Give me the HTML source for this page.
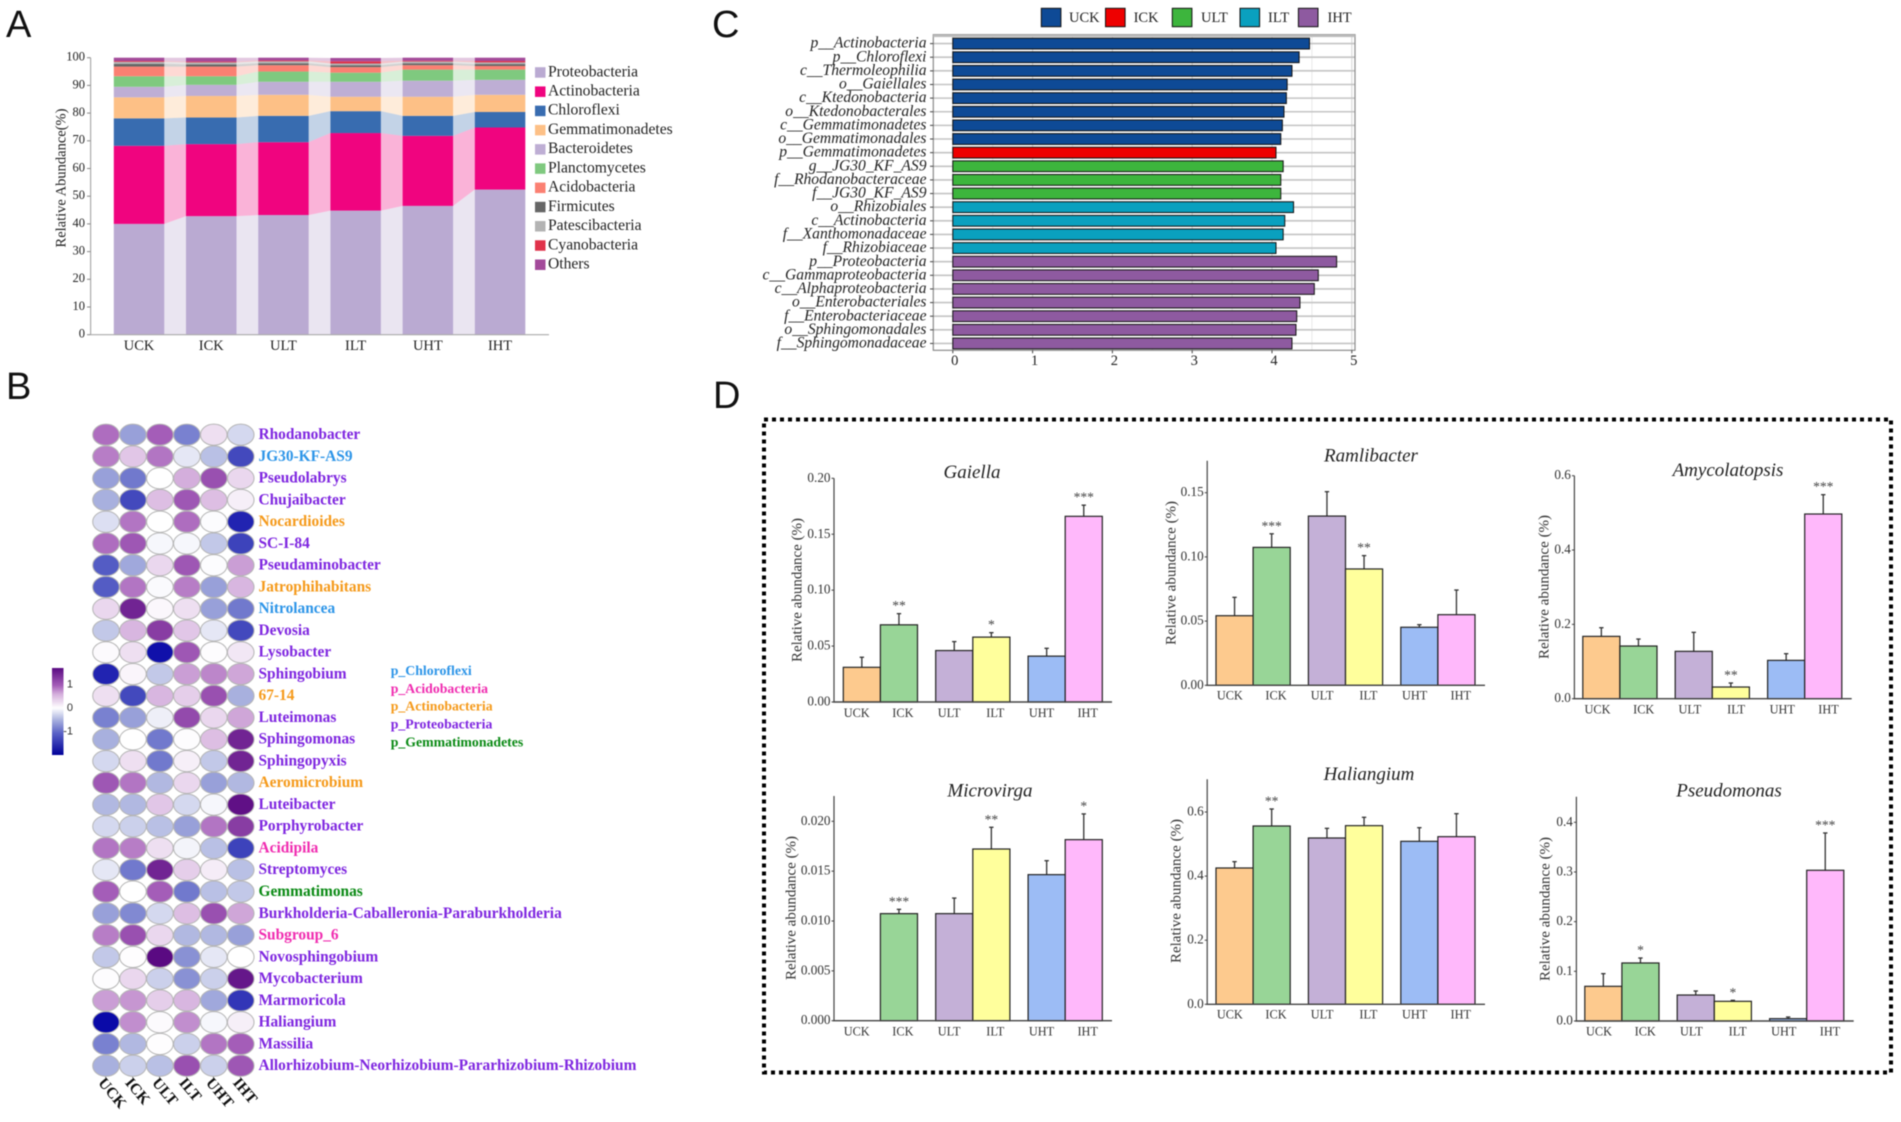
<!DOCTYPE html>
<html lang="en">
<head>
<meta charset="utf-8">
<title>Microbial community composition figure</title>
<style>
html,body{margin:0;padding:0;background:#fff;width:1901px;height:1122px;overflow:hidden}
svg{display:block;filter:blur(0.6px)}
text{font-family:"Liberation Serif",serif}
.sans{font-family:"Liberation Sans",sans-serif}
</style>
</head>
<body>
<svg id="figure" xmlns="http://www.w3.org/2000/svg" width="1901" height="1122" viewBox="0 0 1901 1122">
<rect x="0" y="0" width="1901" height="1122" fill="#fff"/>
<text class="sans" x="6" y="37" font-size="38" fill="#111">A</text>
<text class="sans" x="6" y="399" font-size="38" fill="#111">B</text>
<text class="sans" x="712" y="37" font-size="38" fill="#111">C</text>
<text class="sans" x="713" y="408" font-size="38" fill="#111">D</text>

<g id="panel-a">
<text transform="translate(62,178) rotate(-90)" text-anchor="middle" dominant-baseline="middle" font-size="14.5" fill="#222">Relative Abundance(%)</text>
</g>
<g id="panel-b"></g>
<g id="panel-c"></g>

<g id="panel-d">
<rect x="764" y="419.5" width="1127" height="653" fill="none" stroke="#000" stroke-width="4" stroke-dasharray="4 4"/>
<text x="972" y="473.5" text-anchor="middle" dominant-baseline="middle" font-size="19" font-style="italic" fill="#222">Gaiella</text>
<text x="1371" y="457" text-anchor="middle" dominant-baseline="middle" font-size="19" font-style="italic" fill="#222">Ramlibacter</text>
<text x="1728" y="471.5" text-anchor="middle" dominant-baseline="middle" font-size="19" font-style="italic" fill="#222">Amycolatopsis</text>
<text x="990" y="792" text-anchor="middle" dominant-baseline="middle" font-size="19" font-style="italic" fill="#222">Microvirga</text>
<text x="1369" y="775.5" text-anchor="middle" dominant-baseline="middle" font-size="19" font-style="italic" fill="#222">Haliangium</text>
<text x="1729" y="792" text-anchor="middle" dominant-baseline="middle" font-size="19" font-style="italic" fill="#222">Pseudomonas</text>
<text transform="translate(798,590) rotate(-90)" text-anchor="middle" dominant-baseline="middle" font-size="15" fill="#333">Relative abundance (%)</text>
<text transform="translate(1172,573) rotate(-90)" text-anchor="middle" dominant-baseline="middle" font-size="15" fill="#333">Relative abundance (%)</text>
<text transform="translate(1545,587) rotate(-90)" text-anchor="middle" dominant-baseline="middle" font-size="15" fill="#333">Relative abundance (%)</text>
<text transform="translate(792,908) rotate(-90)" text-anchor="middle" dominant-baseline="middle" font-size="15" fill="#333">Relative abundance (%)</text>
<text transform="translate(1177,891) rotate(-90)" text-anchor="middle" dominant-baseline="middle" font-size="15" fill="#333">Relative abundance (%)</text>
<text transform="translate(1546,909) rotate(-90)" text-anchor="middle" dominant-baseline="middle" font-size="15" fill="#333">Relative abundance (%)</text>
</g>
</svg>

<script>
/* ---------- shared categories ---------- */
const treatmentGroups = ['UCK','ICK','ULT','ILT','UHT','IHT'];

/* ---------- panel A data ---------- */
const phylumNames = ['Proteobacteria','Actinobacteria','Chloroflexi','Gemmatimonadetes','Bacteroidetes','Planctomycetes','Acidobacteria','Firmicutes','Patescibacteria','Cyanobacteria','Others'];
const proteobacteriaValues = [40,42.8,43.2,44.8,46.5,52.4];
const actinobacteriaValues = [28.2,26,26.3,28,25.3,22.4];
const chloroflexiValues = [9.9,9.6,9.5,7.9,7.2,5.6];
const gemmatimonadetesValues = [7.6,7.8,7.6,5.2,6.9,6.2];
const bacteroidetesValues = [3.8,4,4.7,5.4,5.8,5.4];
const planctomycetesValues = [3.8,3.1,3.7,3.3,4,3.7];
const acidobacteriaValues = [3.5,3.5,2.3,2,1.6,1.3];
const firmicutesValues = [1,0.8,0.7,0.7,0.7,0.7];
const patescibacteriaValues = [0.7,0.7,0.7,0.6,0.6,0.6];
const cyanobacteriaValues = [0.3,0.3,0.3,0.8,0.3,0.5];
const othersValues = [1.2,1.4,1,1.2,1.1,1.2];
const stackTicks = [0,10,20,30,40,50,60,70,80,90,100];

/* ---------- panel B data ---------- */
const genusNames = ['Rhodanobacter','JG30-KF-AS9','Pseudolabrys','Chujaibacter','Nocardioides','SC-I-84','Pseudaminobacter','Jatrophihabitans','Nitrolancea','Devosia','Lysobacter','Sphingobium','67-14','Luteimonas','Sphingomonas','Sphingopyxis','Aeromicrobium','Luteibacter','Porphyrobacter','Acidipila','Streptomyces','Gemmatimonas','Burkholderia-Caballeronia-Paraburkholderia','Subgroup_6','Novosphingobium','Mycobacterium','Marmoricola','Haliangium','Massilia','Allorhizobium-Neorhizobium-Pararhizobium-Rhizobium'];
const genusPhyla = ['p_Proteobacteria','p_Chloroflexi','p_Proteobacteria','p_Proteobacteria','p_Actinobacteria','p_Proteobacteria','p_Proteobacteria','p_Actinobacteria','p_Chloroflexi','p_Proteobacteria','p_Proteobacteria','p_Proteobacteria','p_Actinobacteria','p_Proteobacteria','p_Proteobacteria','p_Proteobacteria','p_Actinobacteria','p_Proteobacteria','p_Proteobacteria','p_Acidobacteria','p_Proteobacteria','p_Gemmatimonadetes','p_Proteobacteria','p_Acidobacteria','p_Proteobacteria','p_Proteobacteria','p_Proteobacteria','p_Proteobacteria','p_Proteobacteria','p_Proteobacteria'];
const heatValues = [
[0.9,-0.6,1.0,-0.8,0.2,-0.25],
[0.8,0.35,0.85,-0.15,-0.4,-1.2],
[-0.6,-0.85,0,0.5,1.1,0.25],
[-0.5,-1.2,0.4,1.05,0.4,0.1],
[-0.2,0.85,0,0.9,-0.02,-1.5],
[0.9,1.05,-0.05,-0.05,-0.35,-1.25],
[-1.05,-0.55,0.25,1.05,-0.02,0.6],
[-1.05,0.85,-0.03,0.8,-0.6,0.45],
[0.25,1.45,0.05,0.2,-0.6,-0.85],
[-0.35,0.45,1.25,0.35,-0.15,-1.2],
[0.03,0.2,-1.65,1.05,0.02,0.15],
[-1.5,0.06,-0.35,0.6,0.75,0.55],
[0.2,-1.2,0.45,0.3,1.1,-0.5],
[-0.8,-0.6,-0.1,1.15,0.25,0.55],
[-0.5,0,-0.85,0.02,0.4,1.45],
[-0.25,0.2,-0.85,0.1,-0.35,1.45],
[1.05,0.85,-0.45,0.25,-0.6,-0.45],
[-0.45,-0.45,0.35,-0.25,-0.05,1.6],
[-0.25,-0.3,-0.4,-0.6,0.85,1.25],
[0.85,0.8,0.2,-0.07,-0.4,-1.25],
[-0.15,-0.85,1.45,0.3,0.12,-0.4],
[1.0,0,1.0,-0.85,-0.4,-0.35],
[-0.6,-0.75,-0.25,0.4,1.1,0.55],
[0.8,1.1,0.25,-0.45,-0.45,-0.6],
[-0.35,0.01,1.65,-0.7,-0.15,0],
[0.02,0.25,-0.3,-0.7,-0.3,1.55],
[0.6,0.65,0.3,0.45,-0.55,-1.35],
[-1.7,0.7,0.03,0.7,-0.05,0.1],
[-0.8,-0.45,0.01,-0.3,0.85,1.0],
[-0.5,-0.3,-0.4,1.1,-0.3,1.05]
];
const phylumLegendNames = ['p_Chloroflexi','p_Acidobacteria','p_Actinobacteria','p_Proteobacteria','p_Gemmatimonadetes'];
const colorbarTicks = [1,0,-1];

/* ---------- panel C data ---------- */
const lefseLabels = ['p__Actinobacteria','p__Chloroflexi','c__Thermoleophilia','o__Gaiellales','c__Ktedonobacteria','o__Ktedonobacterales','c__Gemmatimonadetes','o__Gemmatimonadales','p__Gemmatimonadetes','g__JG30_KF_AS9','f__Rhodanobacteraceae','f__JG30_KF_AS9','o__Rhizobiales','c__Actinobacteria','f__Xanthomonadaceae','f__Rhizobiaceae','p__Proteobacteria','c__Gammaproteobacteria','c__Alphaproteobacteria','o__Enterobacteriales','f__Enterobacteriaceae','o__Sphingomonadales','f__Sphingomonadaceae'];
const lefseScores = [4.47,4.34,4.25,4.19,4.18,4.15,4.13,4.11,4.05,4.14,4.11,4.11,4.27,4.16,4.14,4.05,4.81,4.58,4.53,4.35,4.31,4.30,4.25];
const lefseGroups = ['UCK','UCK','UCK','UCK','UCK','UCK','UCK','UCK','ICK','ULT','ULT','ULT','ILT','ILT','ILT','ILT','IHT','IHT','IHT','IHT','IHT','IHT','IHT'];
const lefseLegendGroups = ['UCK','ICK','ULT','ILT','IHT'];
const lefseTicks = [0,1,2,3,4,5];

/* ---------- panel D data ---------- */
const gaiellaValues = [0.031,0.069,0.046,0.058,0.041,0.166];
const gaiellaErrors = [0.009,0.010,0.008,0.004,0.007,0.010];
const gaiellaStars = ['','**','','*','','***'];
const gaiellaTicks = ['0.00','0.05','0.10','0.15','0.20'];

const ramlibacterValues = [0.0542,0.1074,0.1318,0.0906,0.0452,0.055];
const ramlibacterErrors = [0.0143,0.0106,0.019,0.0104,0.002,0.0192];
const ramlibacterStars = ['','***','','**','',''];
const ramlibacterTicks = ['0.00','0.05','0.10','0.15'];

const amycolatopsisValues = [0.1677,0.1417,0.1274,0.0314,0.1031,0.4969];
const amycolatopsisErrors = [0.0233,0.0188,0.0511,0.0108,0.018,0.052];
const amycolatopsisStars = ['','','','**','','***'];
const amycolatopsisTicks = ['0.0','0.2','0.4','0.6'];

const microvirgaValues = [0,0.01074,0.01074,0.01722,0.01465,0.01816];
const microvirgaErrors = [0,0.00043,0.00156,0.00218,0.0014,0.00258];
const microvirgaStars = ['','***','','**','','*'];
const microvirgaTicks = ['0.000','0.005','0.010','0.015','0.020'];

const haliangiumValues = [0.4253,0.5563,0.5189,0.5574,0.5085,0.523];
const haliangiumErrors = [0.0198,0.0531,0.0301,0.026,0.0426,0.0718];
const haliangiumStars = ['','**','','','',''];
const haliangiumTicks = ['0.0','0.2','0.4','0.6'];

const pseudomonasValues = [0.0698,0.1168,0.0523,0.0396,0.0047,0.3034];
const pseudomonasErrors = [0.0255,0.01,0.0081,0.002,0.0033,0.0751];
const pseudomonasStars = ['','*','','*','','***'];
const pseudomonasTicks = ['0.0','0.1','0.2','0.3','0.4'];

/* ---------- helpers ---------- */
const SVGNS = 'http://www.w3.org/2000/svg';
function make(tag, parent, attrs, content) {
  const el = document.createElementNS(SVGNS, tag);
  for (const k in attrs) el.setAttribute(k, attrs[k]);
  if (content !== undefined) el.textContent = content;
  parent.appendChild(el);
  return el;
}
function slug(s) { return String(s).toLowerCase().replace(/[^a-z0-9]+/g, '-').replace(/^-|-$/g, ''); }

/* ---------- panel A ---------- */
(function () {
  const root = document.getElementById('panel-a');
  const stackSeries = [proteobacteriaValues, actinobacteriaValues, chloroflexiValues, gemmatimonadetesValues, bacteroidetesValues, planctomycetesValues, acidobacteriaValues, firmicutesValues, patescibacteriaValues, cyanobacteriaValues, othersValues];
  const colors = ['#baaad2','#f0047f','#386cb0','#fdc086','#beaed4','#7fc97f','#fb8072','#666666','#b3b3b3','#e0324a','#a34a9a'];
  const yBase = 334.7, yTop = 57.7, barLeft = 113.8, barStep = 72.2, barW = 50.5;
  const y = v => yBase - (v / 100) * (yBase - yTop);
  const x = i => barLeft + i * barStep;
  const cumulative = treatmentGroups.map(() => 0);
  stackSeries.forEach((vals, s) => {
    const lows = cumulative.slice();
    vals.forEach((v, i) => { cumulative[i] += v; });
    const highs = cumulative.slice();
    treatmentGroups.forEach((g, i) => {
      if (i < treatmentGroups.length - 1) {
        const band = make('polygon', root, {
          points: [[x(i) + barW, y(lows[i])], [x(i + 1), y(lows[i + 1])], [x(i + 1), y(highs[i + 1])], [x(i) + barW, y(highs[i])]].map(p => p.join(',')).join(' '),
          fill: colors[s], opacity: 0.3
        });
        
        
      }
      const bar = make('rect', root, { x: x(i), y: y(highs[i]), width: barW, height: y(lows[i]) - y(highs[i]), fill: colors[s] });
      
      
    });
  });
  const yAxis = make('line', root, { x1: 90.6, x2: 90.6, y1: yTop, y2: yBase, stroke: '#aaa', 'stroke-width': 1.2 });
  
  
  const xAxis = make('line', root, { x1: 90.6, x2: 549, y1: yBase, y2: yBase, stroke: '#aaa', 'stroke-width': 1.2 });
  
  
  stackTicks.forEach(t => {
    const mark = make('line', root, { x1: 87, x2: 90.6, y1: y(t), y2: y(t), stroke: '#888', 'stroke-width': 1 });
    
    
    const label = make('text', root, { x: 85, y: y(t), 'text-anchor': 'end', 'dominant-baseline': 'middle', 'font-size': 12.5, fill: '#222' }, t);
    
    
  });
  treatmentGroups.forEach((g, i) => {
    const label = make('text', root, { x: x(i) + barW / 2, y: 346.5, 'text-anchor': 'middle', 'dominant-baseline': 'middle', 'font-size': 14.5, fill: '#222' }, g);
    
    
  });
  phylumNames.forEach((n, s) => {
    const cy = 72.7 + s * 19.23;
    const swatch = make('rect', root, { x: 535, y: cy - 5.5, width: 10.5, height: 10.5, fill: colors[s] });
    
    
    const label = make('text', root, { x: 548, y: cy, 'dominant-baseline': 'middle', 'font-size': 15.6, fill: '#222' }, n);
    
    
  });
})();

/* ---------- panel B ---------- */
(function () {
  const root = document.getElementById('panel-b');
  const phylumColors = { p_Chloroflexi: '#2d95e8', p_Acidobacteria: '#f02cb0', p_Actinobacteria: '#f59a1b', p_Proteobacteria: '#7f27e0', p_Gemmatimonadetes: '#0a8a14' };
  const stops = [[-1.7,[10,10,168]],[-1,[90,98,198]],[-0.5,[168,176,222]],[0,[255,255,255]],[0.5,[212,174,220]],[1,[164,93,184]],[1.65,[90,10,130]]];
  function heatColor(v) {
    if (v <= stops[0][0]) return 'rgb(' + stops[0][1].join(',') + ')';
    for (let i = 1; i < stops.length; i++) {
      if (v <= stops[i][0]) {
        const t = (v - stops[i - 1][0]) / (stops[i][0] - stops[i - 1][0]);
        return 'rgb(' + stops[i][1].map((c, k) => Math.round(stops[i - 1][1][k] + t * (c - stops[i - 1][1][k]))).join(',') + ')';
      }
    }
    return 'rgb(' + stops[stops.length - 1][1].join(',') + ')';
  }
  const col = i => 106 + i * 26.95;
  const row = i => 434.7 + i * 21.76;
  heatValues.forEach((vals, r) => {
    vals.forEach((v, c) => {
      const cell = make('ellipse', root, { cx: col(c), cy: row(r), rx: 13.3, ry: 10.6, fill: heatColor(v), stroke: '#b5b5b5', 'stroke-width': 1 });
      
      
    });
    const label = make('text', root, { x: 258.5, y: row(r) + 0.8, 'dominant-baseline': 'middle', 'font-size': 15.4, 'font-weight': 'bold', fill: phylumColors[genusPhyla[r]] }, genusNames[r]);
    
    
  });
  treatmentGroups.forEach((g, c) => {
    const label = make('text', root, { transform: 'translate(' + (col(c) - 8.5) + ',1083) rotate(50)', 'font-size': 15.5, 'font-weight': 'bold', fill: '#111' }, g);
    
    
  });
  const defs = make('defs', root, {});
  const grad = make('linearGradient', defs, { id: 'cbar', x1: 0, x2: 0, y1: 0, y2: 1 });
  [[0,'#5a0a82'],[0.2,'#a45db8'],[0.3,'#d4aedc'],[0.46,'#fff'],[0.6,'#a8b0de'],[0.75,'#5a62c6'],[1,'#00009a']].forEach(s => {
    make('stop', grad, { offset: s[0], 'stop-color': s[1] });
  });
  const bar = make('rect', root, { x: 52, y: 668, width: 11.5, height: 87, fill: 'url(#cbar)' });
  
  
  colorbarTicks.forEach(t => {
    const label = make('text', root, { class: 'sans', x: 73, y: 708 - t * 23.5, 'text-anchor': 'end', 'dominant-baseline': 'middle', 'font-size': 11, fill: '#333' }, t);
    
    
  });
  phylumLegendNames.forEach((n, i) => {
    const label = make('text', root, { x: 390.7, y: 671.7 + i * 17.9, 'dominant-baseline': 'middle', 'font-size': 13.8, 'font-weight': 'bold', fill: phylumColors[n] }, n);
    
    
  });
})();

/* ---------- panel C ---------- */
(function () {
  const root = document.getElementById('panel-c');
  const groupColors = { UCK: '#0e4a96', ICK: '#ee0000', ULT: '#3db53d', ILT: '#0aa0bf', IHT: '#8e5aa0' };
  const left = 933.3, right = 1355, top = 34.7, bottom = 350.3;
  const x = v => 952.8 + v * 79.8;
  const y = i => 43.6 + i * 13.63;
  lefseTicks.forEach(t => {
    [t, t + 0.5].forEach((v, k) => {
      if (x(v) > right) return;
      const grid = make('line', root, { x1: x(v), x2: x(v), y1: top, y2: bottom, stroke: k ? '#e8e8e8' : '#d4d4d4', 'stroke-width': 1 });
      
      
    });
  });
  lefseLabels.forEach((n, i) => {
    const grid = make('line', root, { x1: left, x2: right, y1: y(i), y2: y(i), stroke: '#c4c4c4', 'stroke-width': 1.6 });
    
    
  });
  const frame = make('rect', root, { x: left, y: top, width: right - left, height: bottom - top, fill: 'none', stroke: '#8a8a8a', 'stroke-width': 1.2 });
  
  
  const strip = make('rect', root, { x: left, y: top, width: right - left, height: 2.4, fill: '#bdbdbd' });
  
  
  lefseLabels.forEach((n, i) => {
    const bar = make('rect', root, { x: x(0), y: y(i) - 5.4, width: x(lefseScores[i]) - x(0), height: 10.8, fill: groupColors[lefseGroups[i]], stroke: '#111', 'stroke-width': 1 });
    
    
    const mark = make('line', root, { x1: 930, x2: left, y1: y(i), y2: y(i), stroke: '#444', 'stroke-width': 1 });
    
    
    const label = make('text', root, { x: 926.5, y: y(i) + 0.5, 'text-anchor': 'end', 'dominant-baseline': 'middle', 'font-size': 15.6, 'font-style': 'italic', fill: '#222' }, n);
    
    
  });
  lefseTicks.forEach(t => {
    const mark = make('line', root, { x1: x(t), x2: x(t), y1: bottom, y2: bottom + 3, stroke: '#444', 'stroke-width': 1 });
    
    
    const label = make('text', root, { x: x(t) + 2, y: 361.5, 'text-anchor': 'middle', 'dominant-baseline': 'middle', 'font-size': 14.5, fill: '#222' }, t);
    
    
  });
  const swatchX = [1041.3, 1105.5, 1172.3, 1240, 1298.4];
  const labelX = [1069, 1133.6, 1201, 1268, 1327.5];
  lefseLegendGroups.forEach((g, i) => {
    const swatch = make('rect', root, { x: swatchX[i], y: 8.3, width: 19.6, height: 18.4, fill: groupColors[g], stroke: '#111', 'stroke-width': 1 });
    
    
    const label = make('text', root, { x: labelX[i], y: 18.5, 'dominant-baseline': 'middle', 'font-size': 14.5, fill: '#222' }, g);
    
    
  });
})();

/* ---------- panel D ---------- */
(function () {
  const root = document.getElementById('panel-d');
  const barFills = ['#fdca8e','#98d597','#c4b0d7','#ffff9c','#9cbcf5','#ffb8fb'];
  const panels = [
    { id: 'gaiella', values: gaiellaValues, errors: gaiellaErrors, stars: gaiellaStars, ticks: gaiellaTicks, axisX: 834, axisEnd: 1112, y0: 702, yMax: 478.3, axisTop: 478.3, barStart: 843.3, labelStart: 856.7, labelY: 714 },
    { id: 'ramlibacter', values: ramlibacterValues, errors: ramlibacterErrors, stars: ramlibacterStars, ticks: ramlibacterTicks, axisX: 1207.2, axisEnd: 1485, y0: 685.3, yMax: 492.7, axisTop: 460.7, barStart: 1216, labelStart: 1229.8, labelY: 696.5 },
    { id: 'amycolatopsis', values: amycolatopsisValues, errors: amycolatopsisErrors, stars: amycolatopsisStars, ticks: amycolatopsisTicks, axisX: 1574.4, axisEnd: 1851.7, y0: 698.7, yMax: 475.7, axisTop: 475.7, barStart: 1582.8, labelStart: 1597.5, labelY: 710.5 },
    { id: 'microvirga', values: microvirgaValues, errors: microvirgaErrors, stars: microvirgaStars, ticks: microvirgaTicks, axisX: 834, axisEnd: 1112, y0: 1020.7, yMax: 821.3, axisTop: 796, barStart: 843.3, labelStart: 856.7, labelY: 1032.5 },
    { id: 'haliangium', values: haliangiumValues, errors: haliangiumErrors, stars: haliangiumStars, ticks: haliangiumTicks, axisX: 1207.2, axisEnd: 1485, y0: 1004.3, yMax: 812, axisTop: 779.3, barStart: 1216, labelStart: 1229.8, labelY: 1015.5 },
    { id: 'pseudomonas', values: pseudomonasValues, errors: pseudomonasErrors, stars: pseudomonasStars, ticks: pseudomonasTicks, axisX: 1576.4, axisEnd: 1853.7, y0: 1021, yMax: 822.3, axisTop: 796.7, barStart: 1584.8, labelStart: 1599, labelY: 1032.5 }
  ];
  panels.forEach(p => {
    const domainMax = parseFloat(p.ticks[p.ticks.length - 1]);
    const y = v => p.y0 - (v / domainMax) * (p.y0 - p.yMax);
    const x = i => p.barStart + i * 37.1 + Math.floor(i / 2) * 18.2;
    const bw = 37.1;
    p.values.forEach((v, i) => {
      const g = treatmentGroups[i];
      if (p.errors[i] > 0) {
        const whisker = make('line', root, { x1: x(i) + bw / 2, x2: x(i) + bw / 2, y1: y(v), y2: y(v + p.errors[i]), stroke: '#333', 'stroke-width': 1.3 });
        
        
        const cap = make('line', root, { x1: x(i) + bw / 2 - 2.2, x2: x(i) + bw / 2 + 2.2, y1: y(v + p.errors[i]), y2: y(v + p.errors[i]), stroke: '#333', 'stroke-width': 1.3 });
        
        
      }
      if (v > 0) {
        const bar = make('rect', root, { x: x(i), y: y(v), width: bw, height: p.y0 - y(v), fill: barFills[i], stroke: '#222', 'stroke-width': 1.2 });
        
        
      }
      if (p.stars[i]) {
        const star = make('text', root, { x: x(i) + bw / 2, y: y(v + p.errors[i]) - 3.5, 'text-anchor': 'middle', 'font-size': 13.5, fill: '#444' }, p.stars[i]);
        
        
      }
      const label = make('text', root, { x: p.labelStart + i * 46.2, y: p.labelY, 'text-anchor': 'middle', 'dominant-baseline': 'middle', 'font-size': 12.3, fill: '#333' }, g);
      
      
    });
    const yAxis = make('line', root, { x1: p.axisX, x2: p.axisX, y1: p.axisTop, y2: p.y0, stroke: '#444', 'stroke-width': 1.2 });
    
    
    const xAxis = make('line', root, { x1: p.axisX - 1, x2: p.axisEnd, y1: p.y0, y2: p.y0, stroke: '#444', 'stroke-width': 1.4 });
    
    
    p.ticks.forEach(t => {
      const mark = make('line', root, { x1: p.axisX - 2.5, x2: p.axisX, y1: y(parseFloat(t)), y2: y(parseFloat(t)), stroke: '#444', 'stroke-width': 1 });
      
      
      const label = make('text', root, { x: p.axisX - 3.5, y: y(parseFloat(t)) + 0.5, 'text-anchor': 'end', 'dominant-baseline': 'middle', 'font-size': 13.2, fill: '#333' }, t);
      
      
    });
  });
})();
</script>
</body>
</html>
